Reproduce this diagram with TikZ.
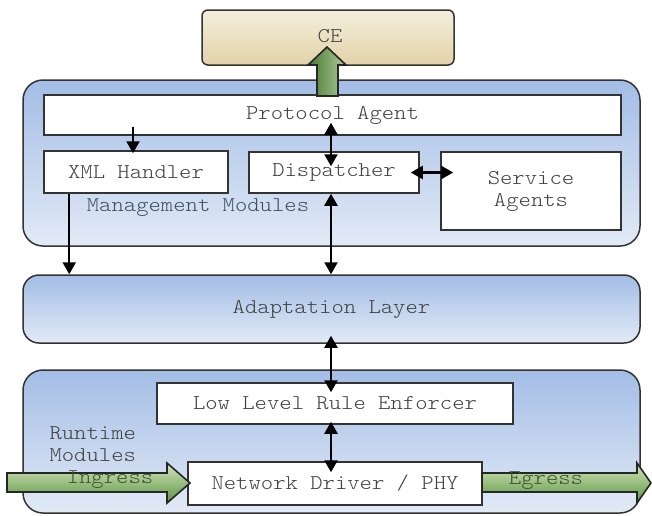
\documentclass[tikz,border=0pt]{standalone}
\usepackage{fontspec}
\setmainfont{Latin Modern Mono Light}[FakeStretch=1.12]
\usetikzlibrary{calc,arrows.meta}
\definecolor{edge}{HTML}{333333}
\definecolor{txt}{HTML}{404040}
\definecolor{mtxt}{HTML}{3E4C64}
\definecolor{bluetop}{HTML}{A3BDE5}
\definecolor{bluebot}{HTML}{E2EAF6}
\definecolor{cetop}{HTML}{F4EEDD}
\definecolor{cebot}{HTML}{E2D2A8}
\definecolor{glight}{HTML}{D2E6BC}
\definecolor{gdark}{HTML}{5C9440}
\definecolor{gtxt}{HTML}{3E5032}
\begin{document}
\begin{tikzpicture}[x=1pt,y=-1pt,
  font=\fontsize{21}{22}\selectfont,
  layer/.style={draw=edge,line width=1.5pt,rounded corners=20pt,top color=bluetop,bottom color=bluebot,inner sep=0pt},
  wbox/.style={draw=edge,line width=1.5pt,fill=white,text=txt,inner sep=0pt,align=center},
  arr/.style={line width=2.2pt,-{Triangle[length=12pt,width=13pt]}},
  darr/.style={line width=2.2pt,{Triangle[length=12pt,width=13pt]}-{Triangle[length=12pt,width=13pt]}},
  garrow/.style={draw=black!85,line width=1.6pt,line join=miter,top color=glight,bottom color=gdark}
]
\useasboundingbox (0,0) rectangle (652,515);
% CE box
\node[draw=edge,line width=1.5pt,rounded corners=6pt,top color=cetop,bottom color=cebot,minimum width=252pt,minimum height=55pt,inner sep=0pt,text=txt] (ce) at (328,37.5) {};
\node[text=txt] (cetext) at (330,36) {CE};
% layers
\node[layer,minimum width=617pt,minimum height=166pt] (mgmt) at (331.5,163) {};
\node[layer,minimum width=617pt,minimum height=68pt,rounded corners=16pt] (adapt) at (331.5,309) {};
\node[text=txt] at (adapt.center) {Adaptation Layer};
\node[layer,minimum width=617pt,minimum height=143pt] (rt) at (331.5,441.5) {};
% inner boxes
\node[wbox,minimum width=577pt,minimum height=40pt] (pa) at (332.5,115) {Protocol Agent};
\node[wbox,minimum width=184pt,minimum height=42pt] (xml) at (136,172) {XML Handler};
\node[wbox,minimum width=170pt,minimum height=41pt] (disp) at (334,172.5) {Dispatcher};
\node[wbox,minimum width=180pt,minimum height=78pt] (svc) at (531,191) {Service\\Agents};
\node[text=mtxt] (mm) at (198,208) {Management Modules};
\node[wbox,minimum width=356pt,minimum height=41pt] (llre) at (335,403.5) {Low Level Rule Enforcer};
\node[text=txt,align=left,anchor=west] (rtm) at (46,444) {Runtime\\Modules};
% green block arrows
\coordinate (cetip) at (327,47);
\path[garrow,left color=gdark!80!black,right color=glight!70!gdark]
  (317,96) -- (317,65) -- (308,65) -- (cetip) -- (346,65) -- (338,65) -- (338,96) -- cycle;
\node[wbox,minimum width=294pt,minimum height=43pt] (ndp) at (335,483.5) {Network Driver / PHY};
\coordinate (instart) at (7,473);
\path[garrow] (instart) -- (167,473) -- (167,463) -- (190,483) -- (167,503) -- (167,492) -- (7,492) -- cycle;
\coordinate (egtip) at (651,483);
\path[garrow] (482,473) -- (637,473) -- (637,463) -- (egtip) -- (637,503) -- (637,492) -- (482,492) -- cycle;
\node[text=gtxt] (ing) at (110,480) {Ingress};
\node[text=gtxt] (egr) at (546,481) {Egress};
% connectors
\draw[arr] ($(pa.south -| xml.north)+(-3,-9)$) -- ($(xml.north)+(-3,3)$);
\draw[darr] ($(pa.south -| disp.north)+(-3,-13)$) -- ($(disp.north)+(-3,15)$);
\draw[darr] ($(disp.east)+(-9,0)$) -- ($(svc.west |- disp.east)+(13,0)$);
\coordinate (xa) at ($(xml.south west)+(26,0)$);
\draw[arr] (xa) -- (xa |- adapt.north);
\draw[darr] ($(disp.south)+(-3,0)$) -- ($(adapt.north -| disp.south)+(-3,0)$);
\draw[darr] ($(adapt.south -| llre.north)+(-4,-8)$) -- ($(llre.north)+(-4,10)$);
\draw[darr] ($(llre.south)+(-4,-3)$) -- ($(ndp.north)+(-4,11)$);
\end{tikzpicture}
\end{document}
